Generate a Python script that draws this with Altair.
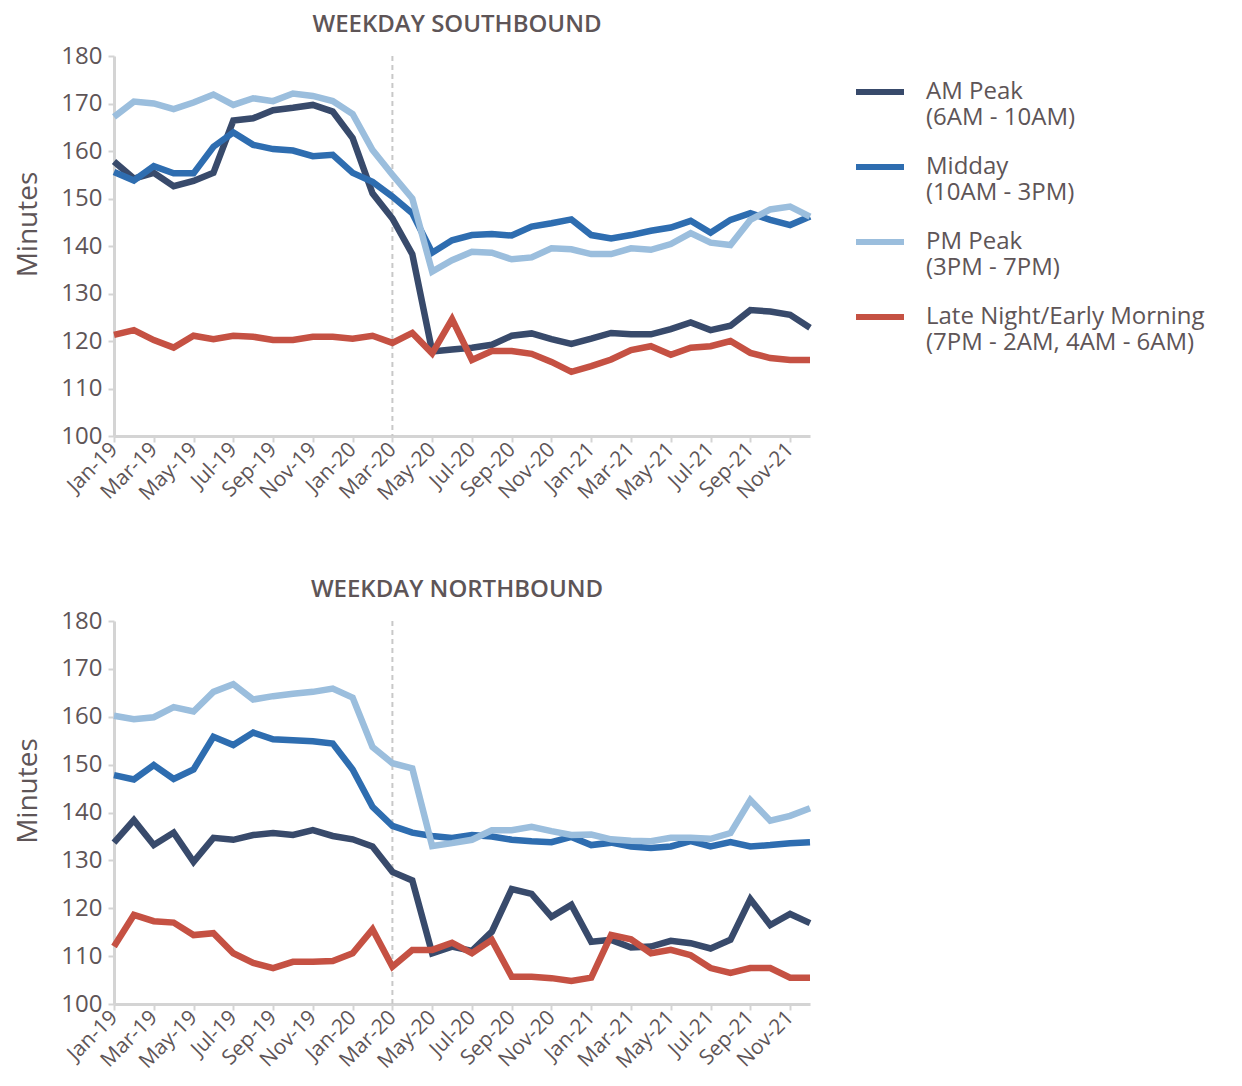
import altair as alt
import pandas as pd

months = ["Jan-19","Feb-19","Mar-19","Apr-19","May-19","Jun-19","Jul-19","Aug-19","Sep-19","Oct-19","Nov-19","Dec-19",
          "Jan-20","Feb-20","Mar-20","Apr-20","May-20","Jun-20","Jul-20","Aug-20","Sep-20","Oct-20","Nov-20","Dec-20",
          "Jan-21","Feb-21","Mar-21","Apr-21","May-21","Jun-21","Jul-21","Aug-21","Sep-21","Oct-21","Nov-21","Dec-21"]
tick_labels = ["Jan-19","Mar-19","May-19","Jul-19","Sep-19","Nov-19","Jan-20","Mar-20","May-20","Jul-20","Sep-20","Nov-20",
               "Jan-21","Mar-21","May-21","Jul-21","Sep-21","Nov-21"]
event_month = ["Mar-20"]

series = ["AM Peak|(6AM - 10AM)", "Midday|(10AM - 3PM)", "PM Peak|(3PM - 7PM)",
          "Late Night/Early Morning|(7PM - 2AM, 4AM - 6AM)"]
colors = ["#384a6b", "#2e6db0", "#9bbedd", "#c55143"]

# Weekday Southbound
sb_am = [157.8,154.2,155.4,152.6,153.7,155.4,166.4,166.9,168.6,169.1,169.7,168.3,
         162.7,151.1,145.8,138.3,117.8,118.2,118.6,119.2,121.1,121.6,120.4,119.4,
         120.5,121.7,121.4,121.4,122.5,123.9,122.3,123.2,126.5,126.2,125.5,122.8]
sb_mid = [155.6,153.8,156.8,155.3,155.3,160.9,163.9,161.3,160.4,160.1,158.9,159.2,
          155.4,153.5,150.4,146.9,138.6,141.2,142.3,142.5,142.2,144.1,144.8,145.6,
          142.3,141.6,142.3,143.2,143.9,145.3,142.8,145.5,146.9,145.5,144.4,146.2]
sb_pm = [167.2,170.4,170.0,168.8,170.2,171.9,169.7,171.1,170.5,172.1,171.6,170.5,
         167.8,160.2,155.0,150.0,134.6,137.0,138.8,138.6,137.2,137.6,139.5,139.3,
         138.3,138.3,139.5,139.2,140.4,142.7,140.7,140.2,145.5,147.7,148.3,146.2]
sb_late = [121.3,122.3,120.2,118.6,121.1,120.4,121.1,120.9,120.2,120.2,120.9,120.9,
           120.5,121.1,119.6,121.7,117.4,124.6,116.0,117.9,117.9,117.3,115.6,113.5,
           114.7,116.1,118.1,118.9,117.1,118.6,118.9,120.0,117.5,116.4,116.0,116.0]

# Weekday Northbound
nb_am = [133.7,138.4,133.2,135.8,129.7,134.7,134.3,135.3,135.7,135.3,136.3,135.1,
         134.4,132.9,127.6,125.8,110.6,112.0,111.1,115.1,124.0,123.0,118.2,120.7,
         113.0,113.4,111.8,112.0,113.2,112.7,111.6,113.4,121.9,116.5,118.8,116.9]
nb_mid = [147.8,146.9,149.9,147.0,149.0,155.8,154.1,156.7,155.3,155.1,154.9,154.4,
          149.0,141.2,137.2,135.8,135.1,134.7,135.3,135.0,134.3,134.0,133.8,134.9,
          133.2,133.7,132.9,132.6,132.9,134.0,132.9,133.8,132.9,133.2,133.6,133.8]
nb_pm = [160.2,159.5,159.9,162.0,161.1,165.2,166.8,163.6,164.3,164.8,165.2,165.9,
         164.0,153.7,150.3,149.2,133.0,133.6,134.3,136.3,136.3,137.0,136.1,135.3,
         135.4,134.4,134.1,134.0,134.7,134.7,134.5,135.7,142.6,138.3,139.3,140.9]
nb_late = [112.0,118.6,117.3,117.0,114.4,114.8,110.6,108.6,107.5,108.8,108.8,109.0,
           110.6,115.6,107.8,111.3,111.3,112.8,110.6,113.4,105.7,105.7,105.4,104.8,
           105.5,114.4,113.5,110.6,111.3,110.2,107.5,106.5,107.5,107.5,105.5,105.5]

titles = ["WEEKDAY SOUTHBOUND", "WEEKDAY NORTHBOUND"]
TEXT = "#5e5557"
FONT = "Open Sans"


def make_df(vals):
    rows = []
    for s, v in zip(series, vals):
        for m, y in zip(months, v):
            rows.append({"month": m, "series": s, "minutes": y})
    return pd.DataFrame(rows)


color_scale = alt.Scale(domain=series, range=colors)


def panel(vals, title, h):
    df = make_df(vals)
    x = alt.X("month:N", sort=months,
              scale=alt.Scale(type="point", padding=0, domain=months),
              axis=alt.Axis(values=tick_labels, labelAngle=-45, title=None))
    lines = alt.Chart(df).mark_line(strokeWidth=6.5).encode(
        x=x,
        y=alt.Y("minutes:Q", scale=alt.Scale(domain=[100, 180], nice=False, zero=False),
                axis=alt.Axis(values=list(range(100, 181, 10)), title="Minutes",
                              titleY=h / 2 - 22)),
        color=alt.Color("series:N", scale=color_scale, sort=series,
                        legend=alt.Legend(title=None, labelExpr="split(datum.label, '|')")),
    )
    rule = alt.Chart(pd.DataFrame({"month": event_month})).mark_rule(
        color="#c8c8c8", strokeWidth=2, strokeDash=[5, 4]
    ).encode(x=alt.X("month:N", sort=months,
                     scale=alt.Scale(type="point", padding=0, domain=months)))
    return alt.layer(rule, lines).properties(
        width=696, height=h,
        title=alt.TitleParams(title, fontSize=24, fontWeight=600, color=TEXT,
                              font=FONT, anchor="middle", offset=7, dx=-5),
    )


chart = alt.vconcat(
    panel([sb_am, sb_mid, sb_pm, sb_late], titles[0], 380),
    panel([nb_am, nb_mid, nb_pm, nb_late], titles[1], 383),
    spacing=74,
).resolve_scale(color="shared").configure_view(stroke=None).configure_axis(
    labelFont=FONT, titleFont=FONT, labelColor=TEXT, titleColor=TEXT,
    labelFontSize=24, titleFontSize=28, titleFontWeight="normal",
    domainColor="#d4d4d4", domainWidth=3, tickColor="#d4d4d4", tickWidth=2,
    tickSize=6, grid=False, labelPadding=6,
).configure_axisY(titlePadding=18).configure_axisX(labelFontSize=21, labelPadding=4).configure_legend(
    orient="right", offset=21, padding=9, labelFont=FONT, labelFontSize=24, labelColor=TEXT,
    labelLimit=400, symbolType="stroke",
    symbolStrokeWidth=6, symbolSize=2304, rowPadding=10, labelOffset=19,
).properties(padding={"left": 6, "top": 5, "right": 5, "bottom": 5})

chart.save("out.html", embed_options={"renderer": "svg", "actions": False})
